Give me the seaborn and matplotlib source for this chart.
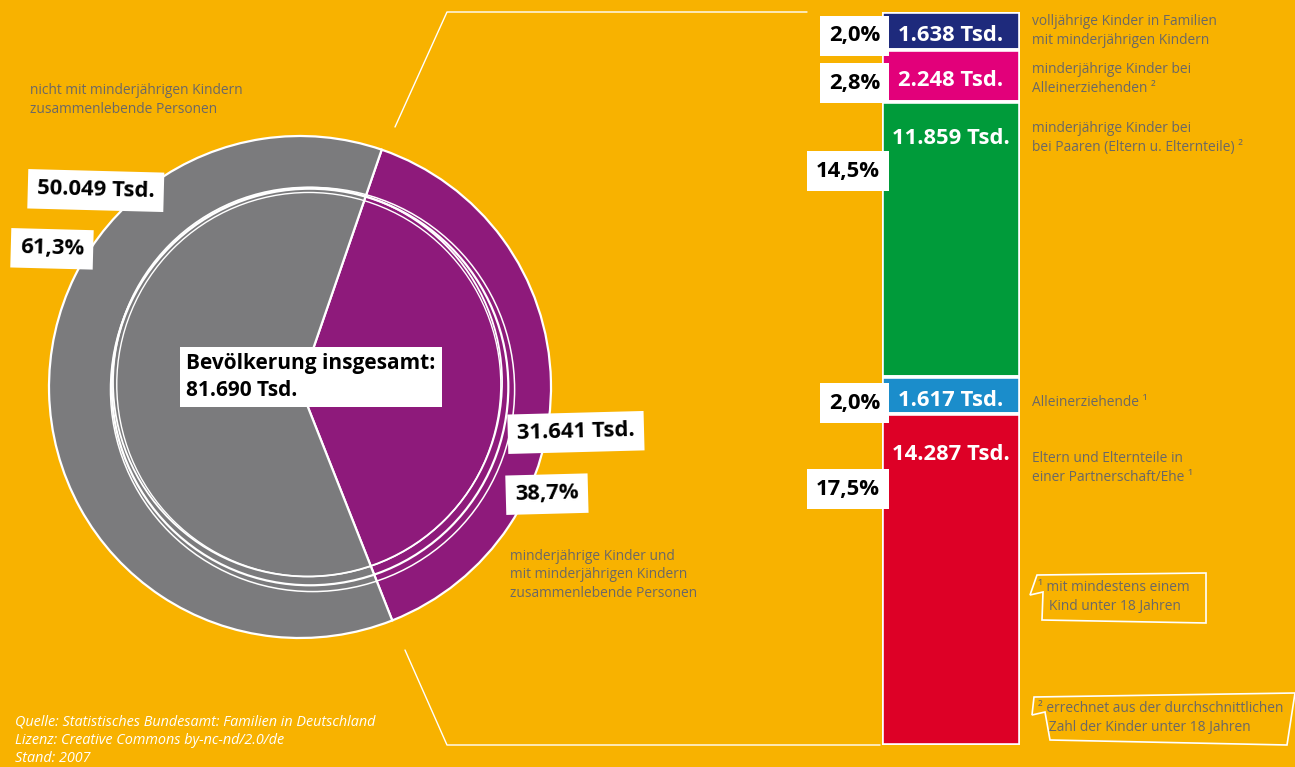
import matplotlib
matplotlib.use("Agg")
import matplotlib.pyplot as plt
import seaborn as sns
import pandas as pd
import numpy as np
from matplotlib.patches import Circle, Polygon

# ---------------- data ----------------
pie_groups = ["minderjährige Kinder und\nmit minderjährigen Kindern\nzusammenlebende Personen",
              "nicht mit minderjährigen Kindern\nzusammenlebende Personen"]
pie_values = [31641, 50049]
pie_value_labels = ["31.641 Tsd.", "50.049 Tsd."]
pie_pct_labels = ["38,7%", "61,3%"]
total_label = "Bevölkerung insgesamt:\n81.690 Tsd."

bar_categories = ["volljährige Kinder in Familien\nmit minderjährigen Kindern",
                  "minderjährige Kinder bei\nAlleinerziehenden ²",
                  "minderjährige Kinder bei\nbei Paaren (Eltern u. Elternteile) ²",
                  "Alleinerziehende ¹",
                  "Eltern und Elternteile in\neiner Partnerschaft/Ehe ¹"]
bar_values = [1638, 2248, 11859, 1617, 14287]
bar_value_labels = ["1.638 Tsd.", "2.248 Tsd.", "11.859 Tsd.", "1.617 Tsd.", "14.287 Tsd."]
bar_pct_labels = ["2,0%", "2,8%", "14,5%", "2,0%", "17,5%"]

footnotes = ["¹ mit mindestens einem\n   Kind unter 18 Jahren",
             "² errechnet aus der durchschnittlichen\n   Zahl der Kinder unter 18 Jahren"]
source_lines = ["Quelle: Statistisches Bundesamt: Familien in Deutschland",
                "Lizenz: Creative Commons by-nc-nd/2.0/de",
                "Stand: 2007"]

# ---------------- style ----------------
BG = "#F8B200"
PIE_COLORS = ["#8E1A7B", "#7B7B7D"]
BAR_COLORS = ["#1E2A7C", "#E2007A", "#009B3A", "#1B8DCB", "#DD0026"]
GRAY_TXT = "#6B6866"

sns.set_theme(style="white")
plt.rcParams["font.family"] = ["Open Sans", "DejaVu Sans"]

W, H = 1295, 767
fig = plt.figure(figsize=(W / 100, H / 100), dpi=100, facecolor=BG)

def px_rect(x0, y0, w, h):
    return [x0 / W, (H - y0 - h) / H, w / W, h / H]

# ---------------- pie ----------------
cx, cy, r = 300, 387, 251
ax_pie = fig.add_axes(px_rect(cx - 1.1 * r, cy - 1.1 * r, 2.2 * r, 2.2 * r))
ax_pie.set_facecolor("none")
ax_pie.pie(pie_values, colors=PIE_COLORS, startangle=71, counterclock=False, radius=1,
           wedgeprops=dict(edgecolor="white", linewidth=1.6))
for (ox, oy, rr, lw) in [(0.04, 0.0, 0.79, 1.6), (0.03, 0.02, 0.775, 1.3), (0.05, -0.01, 0.805, 1.1),
                         (0.035, 0.01, 0.765, 1.0)]:
    ax_pie.add_patch(Circle((ox, oy), rr, fill=False, ec="white", lw=lw))
ax_pie.set_xlim(-1.1, 1.1)
ax_pie.set_ylim(-1.1, 1.1)
ax_pie.set_aspect("equal")
ax_pie.axis("off")

# ---------------- stacked bar ----------------
total = sum(bar_values)
bottoms = np.concatenate([[0], np.cumsum(bar_values)[:-1]])
ax_bar = fig.add_axes(px_rect(882, 12, 138, 733))
ax_bar.set_facecolor("none")
for i, (v, b, c) in enumerate(zip(bar_values, bottoms, BAR_COLORS)):
    df = pd.DataFrame({"x": [0], "y": [v]})
    sns.barplot(data=df, x="x", y="y", bottom=b, color=c, saturation=1, width=1,
                edgecolor="white", linewidth=2.6, ax=ax_bar)
ax_bar.set_xlim(-0.5, 0.5)
ax_bar.set_ylim(total, 0)
ax_bar.axis("off")

label_offsets = [None, None, 1350, None, 1550]
for v, b, lab, off in zip(bar_values, bottoms, bar_value_labels, label_offsets):
    y = b + v / 2 if off is None else b + off
    ax_bar.annotate(lab, (0, y), xytext=(0, -3.5), textcoords="offset points",
                    ha="center", va="center", color="white",
                    fontsize=15.8, fontweight="bold")

# ---------------- overlay (pixel coordinates) ----------------
ax = fig.add_axes([0, 0, 1, 1])
ax.set_facecolor("none")
ax.set_xlim(0, W)
ax.set_ylim(H, 0)
ax.axis("off")

# connector lines
ax.plot([395, 447, 807], [127, 12, 12], color="white", lw=1)
ax.plot([405, 447, 880], [650, 745, 745], color="white", lw=1)

def box(x, y, s, ha="left", rot=0, fs=15.8):
    ax.text(x, y, s, ha=ha, va="center", fontsize=fs, fontweight="bold", color="black",
            rotation=rot, rotation_mode="anchor",
            bbox=dict(boxstyle="square,pad=0.42", fc="white", ec="none"))

# pie labels
box(37, 189, pie_value_labels[1], rot=-1.5)
box(20, 248, pie_pct_labels[1], rot=-1.5)
box(517, 434, pie_value_labels[0], rot=1.5)
box(515, 495, pie_pct_labels[0], rot=1.5)
ax.text(186, 377, total_label, ha="left", va="center", fontsize=15, fontweight="bold",
        color="black", linespacing=1.35,
        bbox=dict(boxstyle="square,pad=0.3", fc="white", ec="none"))

ax.text(30, 100, pie_groups[1], ha="left", va="center", fontsize=9.9, color=GRAY_TXT,
        linespacing=1.3)
ax.text(510, 575, pie_groups[0], ha="left", va="center", fontsize=9.9, color=GRAY_TXT,
        linespacing=1.3)

# bar percentage boxes and descriptions
pct_y = [36, 83, 171, 403, 489]
for y, lab in zip(pct_y, bar_pct_labels):
    box(880, y, lab, ha="right")
desc_y = [31, 79, 138, 402, 468]
for y, lab in zip(desc_y, bar_categories):
    ax.text(1032, y, lab, ha="left", va="center", fontsize=9.9, color=GRAY_TXT, linespacing=1.3)

# footnote boxes
ax.add_patch(Polygon([[1037, 575], [1206, 573], [1206, 623], [1042, 620], [1043, 592], [1030, 595]],
                     closed=True, fill=False, ec="white", lw=1.2))
ax.add_patch(Polygon([[1034, 697], [1295, 693], [1287, 745], [1050, 740], [1045, 712], [1032, 715]],
                     closed=True, fill=False, ec="white", lw=1.2))
ax.text(1038, 597, footnotes[0], ha="left", va="center", fontsize=9.9, color=GRAY_TXT, linespacing=1.3)
ax.text(1038, 718, footnotes[1], ha="left", va="center", fontsize=9.9, color=GRAY_TXT, linespacing=1.3)

# source
for i, s in enumerate(source_lines):
    ax.text(15, 722 + 18 * i, s, ha="left", va="center", fontsize=10.4, color="white",
            fontstyle="italic")

fig.savefig("out.png", dpi=100, facecolor=BG)
